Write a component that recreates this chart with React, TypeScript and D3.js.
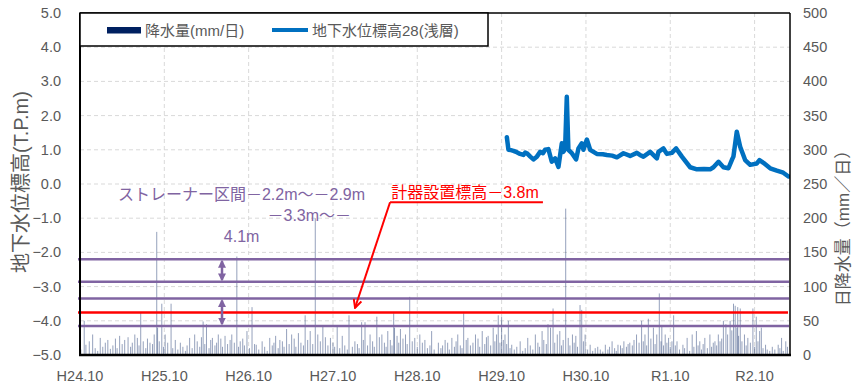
import React from 'react';
import * as d3 from 'd3';

// ---- data ----
const xTickYears = [2012.75, 2013.75, 2014.75, 2015.75, 2016.75, 2017.75, 2018.75, 2019.75, 2020.75];
const xTickLabels = ['H24.10', 'H25.10', 'H26.10', 'H27.10', 'H28.10', 'H29.10', 'H30.10', 'R1.10', 'R2.10'];
const leftTicks = [5, 4, 3, 2, 1, 0, -1, -2, -3, -4, -5];
const rightTicks = [0, 50, 100, 150, 200, 250, 300, 350, 400, 450, 500];

// groundwater level (year, T.P.m)
const level: [number, number][] = [
  [2017.812, 1.37], [2017.831, 1.0], [2017.86, 0.99], [2017.89, 0.97], [2017.93, 0.93], [2017.969, 0.88],
  [2018.009, 0.85], [2018.03, 0.92], [2018.049, 0.9], [2018.09, 0.8], [2018.127, 0.72], [2018.168, 0.8],
  [2018.207, 0.94], [2018.24, 0.9], [2018.266, 1.0], [2018.305, 1.02], [2018.345, 0.65], [2018.385, 0.75],
  [2018.424, 0.5], [2018.464, 1.19], [2018.483, 0.94], [2018.503, 1.04], [2018.523, 2.55], [2018.542, 1.0],
  [2018.583, 0.9], [2018.634, 0.72], [2018.661, 1.04], [2018.701, 1.19], [2018.72, 1.0], [2018.761, 1.3],
  [2018.8, 1.0], [2018.879, 0.88], [2018.95, 0.87], [2018.998, 0.85], [2019.06, 0.83], [2019.117, 0.78],
  [2019.195, 0.9], [2019.274, 0.82], [2019.354, 0.91], [2019.39, 0.85], [2019.432, 0.8], [2019.512, 0.94],
  [2019.591, 0.75], [2019.61, 0.94], [2019.669, 1.04], [2019.71, 0.88], [2019.769, 0.91], [2019.82, 1.04],
  [2019.888, 0.8], [2019.986, 0.49], [2020.066, 0.43], [2020.15, 0.44], [2020.223, 0.43], [2020.262, 0.49],
  [2020.322, 0.65], [2020.381, 0.49], [2020.44, 0.46], [2020.48, 0.7], [2020.499, 0.8], [2020.539, 1.53],
  [2020.579, 1.09], [2020.638, 0.7], [2020.698, 0.56], [2020.777, 0.6], [2020.808, 0.7], [2020.855, 0.62],
  [2020.935, 0.46], [2021.014, 0.39], [2021.09, 0.33], [2021.152, 0.22],
];

// daily precipitation (year, mm/day)
const rain: [number, number][] = [
  [2012.8, 50], [2012.9, 30], [2012.99, 25], [2013.08, 22], [2013.22, 28], [2013.32, 26], [2013.4, 30],
  [2013.47, 62], [2013.5, 20], [2013.58, 18], [2013.66, 180], [2013.67, 40], [2013.72, 75], [2013.76, 30],
  [2013.83, 75], [2013.88, 22], [2013.94, 18], [2014.05, 25], [2014.11, 30], [2014.21, 49], [2014.25, 45],
  [2014.32, 25], [2014.39, 30], [2014.47, 28], [2014.53, 22], [2014.61, 144], [2014.65, 20], [2014.73, 35],
  [2014.79, 70], [2014.84, 15], [2014.91, 20], [2015.0, 25], [2015.07, 28], [2015.12, 22], [2015.2, 38],
  [2015.26, 30], [2015.34, 32], [2015.42, 58], [2015.48, 35], [2015.54, 200], [2015.57, 30], [2015.63, 41],
  [2015.72, 25], [2015.8, 43], [2015.86, 28], [2015.94, 58], [2016.01, 20], [2016.09, 48], [2016.13, 48],
  [2016.19, 30], [2016.27, 56], [2016.33, 30], [2016.4, 35], [2016.47, 61], [2016.48, 40], [2016.55, 38],
  [2016.61, 30], [2016.66, 85], [2016.72, 25], [2016.78, 30], [2016.84, 22], [2016.92, 35], [2017.0, 18],
  [2017.08, 22], [2017.16, 25], [2017.23, 30], [2017.3, 61], [2017.35, 25], [2017.44, 30], [2017.52, 35],
  [2017.59, 28], [2017.65, 40], [2017.71, 58], [2017.75, 55], [2017.79, 30], [2017.83, 50], [2017.87, 15],
  [2017.97, 20], [2018.06, 25], [2018.15, 30], [2018.23, 35], [2018.3, 45], [2018.33, 40], [2018.36, 68],
  [2018.41, 30], [2018.44, 35], [2018.51, 214], [2018.54, 25], [2018.59, 30], [2018.63, 28], [2018.68, 73],
  [2018.7, 66], [2018.74, 30], [2018.8, 15], [2018.89, 12], [2018.98, 15], [2019.06, 20], [2019.13, 15],
  [2019.2, 20], [2019.27, 18], [2019.35, 30], [2019.41, 50], [2019.45, 30], [2019.49, 53], [2019.55, 40],
  [2019.59, 30], [2019.62, 90], [2019.65, 43], [2019.69, 30], [2019.73, 25], [2019.79, 58], [2019.83, 20],
  [2019.9, 15], [2019.95, 25], [2020.01, 30], [2020.06, 35], [2020.1, 20], [2020.16, 25], [2020.22, 30],
  [2020.28, 20], [2020.32, 30], [2020.38, 50], [2020.41, 45], [2020.46, 50], [2020.5, 75], [2020.52, 72],
  [2020.55, 70], [2020.58, 68], [2020.63, 30], [2020.67, 25], [2020.73, 68], [2020.77, 56], [2020.81, 35],
  [2020.83, 40], [2020.88, 15], [2020.96, 12], [2021.03, 15], [2021.07, 25], [2021.12, 20],
  [2012.76, 8], [2012.82, 15], [2012.86, 20], [2012.93, 10], [2012.96, 6], [2013.02, 12], [2013.05, 18],
  [2013.11, 9], [2013.14, 14], [2013.17, 24], [2013.19, 10], [2013.25, 16], [2013.28, 22], [2013.35, 12],
  [2013.37, 18], [2013.43, 25], [2013.45, 14], [2013.53, 10], [2013.55, 24], [2013.61, 16], [2013.63, 30],
  [2013.69, 20], [2013.74, 12], [2013.79, 18], [2013.85, 10], [2013.91, 8], [2013.97, 12], [2014.0, 6],
  [2014.02, 14], [2014.08, 10], [2014.14, 20], [2014.17, 12], [2014.19, 26], [2014.23, 16], [2014.28, 10],
  [2014.3, 22], [2014.35, 14], [2014.37, 18], [2014.42, 24], [2014.44, 12], [2014.5, 16], [2014.55, 30],
  [2014.58, 18], [2014.63, 12], [2014.68, 24], [2014.7, 14], [2014.76, 10], [2014.82, 16], [2014.87, 8],
  [2014.94, 12], [2014.97, 6], [2015.03, 14], [2015.05, 18], [2015.1, 10], [2015.15, 20], [2015.17, 12],
  [2015.23, 16], [2015.29, 24], [2015.31, 12], [2015.37, 18], [2015.4, 14], [2015.45, 22], [2015.51, 16],
  [2015.6, 20], [2015.66, 26], [2015.69, 14], [2015.75, 18], [2015.77, 12], [2015.83, 10], [2015.89, 14],
  [2015.92, 8], [2015.98, 12], [2016.04, 16], [2016.06, 10], [2016.11, 22], [2016.16, 14], [2016.22, 20],
  [2016.24, 12], [2016.3, 26], [2016.36, 18], [2016.38, 12], [2016.43, 22], [2016.45, 14], [2016.51, 28],
  [2016.53, 18], [2016.58, 24], [2016.63, 16], [2016.69, 20], [2016.75, 12], [2016.81, 18], [2016.87, 10],
  [2016.9, 14], [2016.95, 8], [2017.03, 10], [2017.05, 14], [2017.11, 18], [2017.13, 8], [2017.19, 12],
  [2017.21, 20], [2017.26, 14], [2017.28, 10], [2017.33, 22], [2017.38, 14], [2017.41, 18], [2017.47, 24],
  [2017.49, 12], [2017.55, 16], [2017.57, 26], [2017.62, 14], [2017.67, 20], [2017.69, 30], [2017.73, 18],
  [2017.77, 22], [2017.81, 16], [2017.85, 10], [2017.9, 8], [2017.93, 12], [2018.0, 6], [2018.03, 10],
  [2018.09, 14], [2018.12, 8], [2018.18, 18], [2018.2, 12], [2018.25, 22], [2018.28, 16], [2018.38, 18],
  [2018.46, 14], [2018.48, 22], [2018.56, 14], [2018.61, 18], [2018.65, 12], [2018.72, 20], [2018.77, 8],
  [2018.83, 6], [2018.86, 10], [2018.92, 8], [2018.95, 5], [2019.01, 8], [2019.03, 12], [2019.09, 10],
  [2019.11, 6], [2019.16, 14], [2019.18, 10], [2019.23, 12], [2019.25, 16], [2019.3, 14], [2019.32, 22],
  [2019.38, 18], [2019.43, 20], [2019.47, 14], [2019.52, 24], [2019.57, 16], [2019.64, 20], [2019.67, 14],
  [2019.71, 18], [2019.75, 12], [2019.77, 20], [2019.81, 14], [2019.86, 8], [2019.92, 10], [2019.98, 6],
  [2020.03, 12], [2020.08, 14], [2020.12, 8], [2020.14, 16], [2020.19, 10], [2020.24, 12], [2020.26, 18],
  [2020.3, 14], [2020.34, 20], [2020.36, 24], [2020.43, 30], [2020.48, 36], [2020.54, 40], [2020.56, 28],
  [2020.6, 20], [2020.65, 14], [2020.7, 18], [2020.75, 12], [2020.79, 20], [2020.85, 10], [2020.9, 8],
  [2020.93, 6], [2020.99, 8], [2021.05, 10], [2021.09, 6], [2021.14, 12],
];

// screen levels (T.P.m)
const strainerLevels = [-2.2, -2.86, -3.35, -4.15];
const sensorLevel = -3.76;

const FONT = "'Liberation Sans', Arial, 'Noto Sans CJK JP', sans-serif";
const JP = "'Liberation Sans', 'Noto Sans CJK JP', sans-serif";
const PURPLE = '#8064A2';
const GRAY = '#595959';

export default function App() {
  const L = 80, R = 790, T = 13, B = 355;
  const x = d3.scaleLinear().domain([2012.75, 2021.17]).range([L, R]);
  const yL = d3.scaleLinear().domain([-5, 5]).range([B, T]);
  const yR = d3.scaleLinear().domain([0, 500]).range([B, T]);
  const line = d3.line<[number, number]>().x(d => x(d[0])).y(d => yL(d[1]));

  const arrowX = x(2014.434);
  const leaderStart: [number, number] = [x(2016.427), yL(-0.535)];
  const leaderEnd: [number, number] = [x(2016.012), yL(-3.62)];

  return (
    <svg width={852} height={386} style={{ position: 'absolute', left: 0, top: 0, background: '#fff' }}>
      <defs>
        <clipPath id="plot"><rect x={L} y={T} width={R - L} height={B - T} /></clipPath>
        <marker id="pArrow" viewBox="0 0 10 10" refX="8" refY="5" markerWidth="3.2" markerHeight="3.2" orient="auto-start-reverse">
          <path d="M0,0 L10,5 L0,10 z" fill={PURPLE} />
        </marker>
        <marker id="rArrow" viewBox="0 0 10 10" refX="9" refY="5" markerWidth="5" markerHeight="5" orient="auto">
          <path d="M1,1 L9,5 L1,9" fill="none" stroke="#FF0000" strokeWidth="2" />
        </marker>
      </defs>

      {/* grid */}
      {leftTicks.filter(v => v > -5 && v < 5).map(v => (
        <line key={'h' + v} x1={L} x2={R} y1={yL(v)} y2={yL(v)} stroke="#D9D9D9" strokeWidth={1} strokeDasharray="4,3" />
      ))}
      {xTickYears.slice(1).map(t => (
        <line key={'v' + t} x1={x(t)} x2={x(t)} y1={T} y2={B} stroke="#D9D9D9" strokeWidth={1} strokeDasharray="4,3" />
      ))}

      {/* rain bars */}
      <g clipPath="url(#plot)">
        {rain.map((d, i) => (
          <rect key={i} x={x(d[0]) - 0.5} width={1} y={yR(d[1])} height={B - yR(d[1])} fill="#002060" fillOpacity={0.42} />
        ))}
      </g>

      {/* levels */}
      {strainerLevels.map(v => (
        <line key={'s' + v} x1={L - 2} x2={R - 1} y1={yL(v)} y2={yL(v)} stroke={PURPLE} strokeWidth={2.5} />
      ))}
      <line x1={L - 2} x2={R - 2} y1={yL(sensorLevel)} y2={yL(sensorLevel)} stroke="#FF0000" strokeWidth={2.5} />

      {/* double arrows */}
      <line x1={arrowX} x2={arrowX} y1={yL(strainerLevels[0]) + 2} y2={yL(strainerLevels[1]) - 2} stroke={PURPLE} strokeWidth={2.5}
        markerStart="url(#pArrow)" markerEnd="url(#pArrow)" />
      <line x1={arrowX} x2={arrowX} y1={yL(strainerLevels[2]) + 2} y2={yL(strainerLevels[3]) - 2} stroke={PURPLE} strokeWidth={2.5}
        markerStart="url(#pArrow)" markerEnd="url(#pArrow)" />

      {/* groundwater line */}
      <path d={line(level) || ''} fill="none" stroke="#0070C0" strokeWidth={4.5} strokeLinejoin="round" strokeLinecap="round" clipPath="url(#plot)" />

      {/* frame */}
      <line x1={L} x2={R} y1={T} y2={T} stroke="#000" strokeWidth={1.5} />
      <line x1={R} x2={R} y1={T} y2={B} stroke="#000" strokeWidth={1.5} />
      <line x1={L} x2={L} y1={T} y2={B + 1} stroke="#000" strokeWidth={2} />
      <line x1={L - 1} x2={R + 1} y1={B} y2={B} stroke="#000" strokeWidth={2.5} />

      {/* annotations */}
      <text x={x(2013.2)} y={yL(-0.47)} fill={PURPLE} fontSize={16} fontFamily={JP}>ストレーナー区間－2.2m～－2.9m</text>
      <text x={x(2015.965)} y={yL(-1.08)} fill={PURPLE} fontSize={16} fontFamily={JP} textAnchor="end">－3.3m～－</text>
      <text x={x(2014.456)} y={yL(-1.69)} fill={PURPLE} fontSize={16} fontFamily={JP}>4.1m</text>

      <text x={x(2016.44)} y={yL(-0.42)} fill="#FF0000" fontSize={16} fontFamily={JP}>計器設置標高－3.8m</text>
      <line x1={leaderStart[0]} x2={x(2018.24)} y1={leaderStart[1]} y2={leaderStart[1]} stroke="#FF0000" strokeWidth={2} />
      <line x1={leaderStart[0]} y1={leaderStart[1]} x2={leaderEnd[0]} y2={leaderEnd[1]} stroke="#FF0000" strokeWidth={2} markerEnd="url(#rArrow)" />

      {/* legend */}
      <rect x={L} y={T} width={408} height={33} fill="#fff" stroke="#000" strokeWidth={1.5} />
      <rect x={107} y={27} width={34} height={6.5} fill="#002060" />
      <text x={145} y={36} fill={GRAY} fontSize={15} fontFamily={JP}>降水量(mm/日)</text>
      <line x1={272} x2={308} y1={30} y2={30} stroke="#0070C0" strokeWidth={4} />
      <text x={312} y={36} fill={GRAY} fontSize={15} fontFamily={JP}>地下水位標高28(浅層)</text>

      {/* left axis */}
      {leftTicks.map(v => (
        <text key={'l' + v} x={61} y={yL(v) + 5} textAnchor="end" fill={GRAY} fontSize={14.5} fontFamily={FONT}>
          {(v < 0 ? '−' : '') + Math.abs(v).toFixed(1)}
        </text>
      ))}
      {/* right axis */}
      {rightTicks.map(v => (
        <text key={'r' + v} x={803} y={yR(v) + 5} fill={GRAY} fontSize={14.5} fontFamily={FONT}>{v}</text>
      ))}
      {/* bottom axis */}
      {xTickYears.map((t, i) => (
        <text key={'b' + t} x={x(t)} y={381} textAnchor="middle" fill={GRAY} fontSize={14.5} fontFamily={FONT}>{xTickLabels[i]}</text>
      ))}

      {/* axis titles */}
      <text transform={`translate(28,${182}) rotate(-90)`} textAnchor="middle" fill={GRAY} fontSize={20} fontFamily={JP}>地下水位標高(T.P.m)</text>
      <text transform={`translate(849,${224}) rotate(-90)`} textAnchor="middle" fill={GRAY} fontSize={17} fontFamily={JP}>日降水量（mm／日）</text>
    </svg>
  );
}
